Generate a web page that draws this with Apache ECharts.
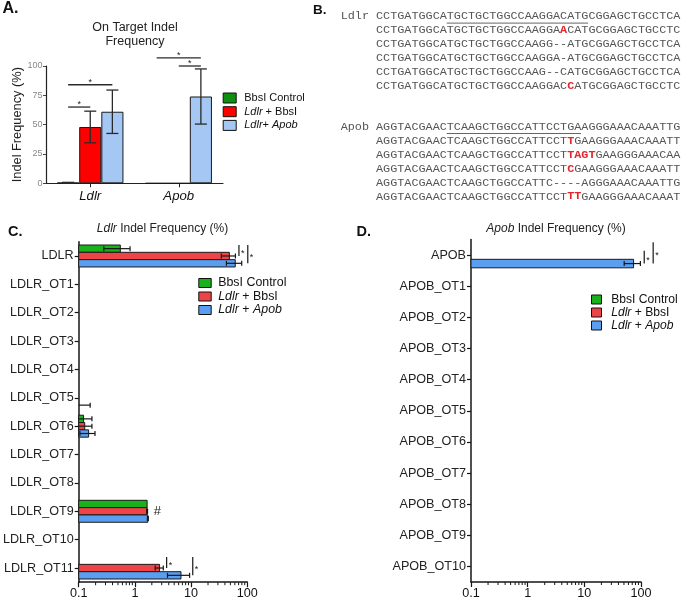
<!DOCTYPE html>
<html>
<head>
<meta charset="utf-8">
<script src="https://cdn.jsdelivr.net/npm/echarts@6.0.0/dist/echarts.min.js"></script>
<style>
html,body{margin:0;padding:0;background:#fff;}
#chart{width:685px;height:601px;}
</style>
</head>
<body>
<div id="chart"></div>
<script>
// ---------------- Panel A data ----------------
const groupsA = ['Ldlr', 'Apob'];
const ctrlA = [0.5, 0];
const ldlrBbsA = [48, 0];
const ldlrApobA = [61, 74];
const ctrlErrA = [0.3, 0];
const ldlrBbsErrA = [13.5, 0];
const ldlrApobErrA = [18.5, 23.5];
const yTicksA = [0, 25, 50, 75, 100];
// [category, fromBar, toBar, y]
const bracketsA = [[0, 0, 1, 65], [0, 0, 2, 84], [1, 0, 2, 107], [1, 1, 2, 100]];

// ---------------- Panel B data ----------------
const ldlrRows = [
  'CCTGATGGCATGCTGCTGGCCAAGGACATGCGGAGCTGCCTCA',
  'CCTGATGGCATGCTGCTGGCCAAGGA[A]CATGCGGAGCTGCCTC',
  'CCTGATGGCATGCTGCTGGCCAAGG--ATGCGGAGCTGCCTCA',
  'CCTGATGGCATGCTGCTGGCCAAGGA-ATGCGGAGCTGCCTCA',
  'CCTGATGGCATGCTGCTGGCCAAG--CATGCGGAGCTGCCTCA',
  'CCTGATGGCATGCTGCTGGCCAAGGAC[C]ATGCGGAGCTGCCTC'
];
const ldlrGuide = [10, 20];
const apobRows = [
  'AGGTACGAACTCAAGCTGGCCATTCCTGAAGGGAAACAAATTG',
  'AGGTACGAACTCAAGCTGGCCATTCCT[T]GAAGGGAAACAAATT',
  'AGGTACGAACTCAAGCTGGCCATTCCT[TAGT]GAAGGGAAACAA',
  'AGGTACGAACTCAAGCTGGCCATTCCT[C]GAAGGGAAACAAATT',
  'AGGTACGAACTCAAGCTGGCCATTC----AGGGAAACAAATTG',
  'AGGTACGAACTCAAGCTGGCCATTCCT[TT]GAAGGGAAACAAAT'
];
const apobGuide = [10, 19];

// ---------------- Panel C data ----------------
const catsC = ['LDLR', 'LDLR_OT1', 'LDLR_OT2', 'LDLR_OT3', 'LDLR_OT4', 'LDLR_OT5',
  'LDLR_OT6', 'LDLR_OT7', 'LDLR_OT8', 'LDLR_OT9', 'LDLR_OT10', 'LDLR_OT11'];
const ctrlC      = [0.55, null, null, null, null, null, 0.122, null, null, 1.65, null, null];
const ctrlErrC   = [0.27, 0, 0, 0, 0, 0, 0.05, 0, 0, 0, 0, 0];
const ldlrBbsC   = [48, null, null, null, null, null, 0.128, null, null, 1.65, null, 2.75];
const ldlrBbsErrC= [13.5, 0, 0, 0, 0, 0, 0.044, 0, 0, 0.03, 0, 0.45];
const ldlrApobC  = [61, null, null, null, null, 0.1, 0.15, null, null, 1.7, null, 6.6];
const ldlrApobErrC=[18.5, 0, 0, 0, 0, 0.06, 0.045, 0, 0, 0.03, 0, 2.8];
// [x value, category, fromBar, toBar]
const bracketsC = [[71, 0, 0, 1], [102, 0, 0, 2], [3.67, 11, 0, 1], [10.7, 11, 0, 2]];
const hashC = [[2.5, 9]];

// ---------------- Panel D data ----------------
const catsD = ['APOB', 'APOB_OT1', 'APOB_OT2', 'APOB_OT3', 'APOB_OT4', 'APOB_OT5',
  'APOB_OT6', 'APOB_OT7', 'APOB_OT8', 'APOB_OT9', 'APOB_OT10'];
const ctrlD       = [null, null, null, null, null, null, null, null, null, null, null];
const ctrlErrD    = [0, 0, 0, 0, 0, 0, 0, 0, 0, 0, 0];
const ldlrBbsD    = [null, null, null, null, null, null, null, null, null, null, null];
const ldlrBbsErrD = [0, 0, 0, 0, 0, 0, 0, 0, 0, 0, 0];
const ldlrApobD   = [74, null, null, null, null, null, null, null, null, null, null];
const ldlrApobErrD= [23.5, 0, 0, 0, 0, 0, 0, 0, 0, 0, 0];
const bracketsD = [[114, 0, 1, 2], [164, 0, 0, 2]];

const minorTicks = [0.2, 0.3, 0.4, 0.5, 0.6, 0.7, 0.8, 0.9, 2, 3, 4, 5, 6, 7, 8, 9, 20, 30, 40, 50, 60, 70, 80, 90];

const legendLabelsA = ['BbsI Control', '{i|Ldlr} + BbsI', '{i|Ldlr}+ {i|Apob}'];
const legendLabelsC = ['BbsI Control', '{i|Ldlr} + BbsI', '{i|Ldlr} + {i|Apob}'];

// ---------------- styling ----------------
const FONT = 'Liberation Sans, Arial, Helvetica, sans-serif';
const MONO = 'Liberation Mono, Courier New, monospace';
const colorsA = ['#0f8f0f', '#ff0000', '#a4c7f4'];
const colorsC = ['#1ab21a', '#ee4447', '#5a9fef'];
const INK = '#161616';

// ---------------- render helpers ----------------
function errRenderA(params, api) {
  const cat = api.value(0), k = api.value(1), m = api.value(2), e = api.value(3);
  const band = api.size([1, 0])[0];
  const bw = band * 0.75 / 3;
  const cx = api.coord([cat, 0])[0] + (k - 1) * bw;
  const yt = api.coord([cat, m + e])[1];
  const yb = api.coord([cat, Math.max(0, m - e)])[1];
  const cw = 6;
  const st = { stroke: '#2a2a2a', lineWidth: 1.3 };
  return { type: 'group', children: [
    { type: 'line', shape: { x1: cx, y1: yt, x2: cx, y2: yb }, style: st },
    { type: 'line', shape: { x1: cx - cw, y1: yt, x2: cx + cw, y2: yt }, style: st },
    { type: 'line', shape: { x1: cx - cw, y1: yb, x2: cx + cw, y2: yb }, style: st }
  ]};
}
function bracketRenderA(params, api) {
  const cat = api.value(0), fk = api.value(1), tk = api.value(2), yv = api.value(3);
  const band = api.size([1, 0])[0];
  const bw = band * 0.75 / 3;
  const c0 = api.coord([cat, yv]);
  const x1 = c0[0] + (fk - 1) * bw, x2 = c0[0] + (tk - 1) * bw;
  return { type: 'group', children: [
    { type: 'line', shape: { x1: x1, y1: c0[1], x2: x2, y2: c0[1] }, style: { stroke: '#2a2a2a', lineWidth: 1.3 } },
    { type: 'text', x: (x1 + x2) / 2, y: c0[1] - 2.2, style: { text: '*', fontSize: 9, fontFamily: FONT, fill: '#222', align: 'center', verticalAlign: 'middle' } }
  ]};
}
function hbarRender(k, frac) {
  return function (params, api) {
    const cs = params.coordSys;
    const v = api.value(0), c = api.value(1), e = api.value(2);
    const band = api.size([0, 1])[1];
    const h = band * frac;
    const yc = api.coord([1, c])[1] + (k - 1) * h;
    const x0 = cs.x;
    const xOf = val => (val <= 0.1 ? x0 : api.coord([val, c])[0]);
    const xe = xOf(v);
    const ch = [];
    if (xe > x0 + 0.1) {
      ch.push({ type: 'rect', shape: { x: x0, y: yc - h / 2, width: xe - x0, height: h },
        style: { fill: api.visual('color'), stroke: '#1a1a1a', lineWidth: 1 } });
    }
    if (e > 0) {
      const xl = xOf(v - e), xr = xOf(v + e);
      const capH = Math.min(5, h * 0.7);
      const st = { stroke: INK, lineWidth: 1.2 };
      ch.push({ type: 'line', shape: { x1: xl, y1: yc, x2: xr, y2: yc }, style: st });
      ch.push({ type: 'line', shape: { x1: xr, y1: yc - capH / 2, x2: xr, y2: yc + capH / 2 }, style: st });
      if (xl > x0 + 0.5) ch.push({ type: 'line', shape: { x1: xl, y1: yc - capH / 2, x2: xl, y2: yc + capH / 2 }, style: st });
    }
    return { type: 'group', children: ch };
  };
}
function vBracketRender(frac) {
  return function (params, api) {
    const xv = api.value(0), c = api.value(1), fk = api.value(2), tk = api.value(3);
    const band = api.size([0, 1])[1];
    const h = band * frac;
    const yc = api.coord([1, c])[1];
    const x = api.coord([xv, c])[0];
    const y1 = yc + (fk - 1) * h - h / 2;
    const y2 = yc + (tk - 1) * h;
    return { type: 'group', children: [
      { type: 'line', shape: { x1: x, y1: y1, x2: x, y2: y2 }, style: { stroke: INK, lineWidth: 1.2 } },
      { type: 'text', x: x + 2, y: (y1 + y2) / 2 + 3, style: { text: '*', fontSize: 9, fontFamily: FONT, fill: INK, align: 'left', verticalAlign: 'middle' } }
    ]};
  };
}
function minorTickRender(params, api) {
  const cs = params.coordSys;
  const x = api.coord([api.value(0), 0])[0];
  const y0 = cs.y + cs.height;
  return { type: 'line', shape: { x1: x, y1: y0, x2: x, y2: y0 + 3 }, style: { stroke: INK, lineWidth: 1 } };
}
function hashRender(params, api) {
  const p = api.coord([api.value(0), api.value(1)]);
  return { type: 'text', x: p[0], y: p[1], style: { text: '#', fontSize: 13, fontFamily: FONT, fill: '#222', align: 'center', verticalAlign: 'middle' } };
}
function hData(vals, errs) {
  return vals.map((v, i) => (v == null ? null : [v, i, errs[i]])).filter(Boolean);
}
function errDataA() {
  const means = [ctrlA, ldlrBbsA, ldlrApobA];
  const errs = [ctrlErrA, ldlrBbsErrA, ldlrApobErrA];
  const out = [];
  groupsA.forEach((g, i) => { for (let k = 0; k < 3; k++) if (means[k][i] > 0) out.push([i, k, means[k][i], errs[k][i]]); });
  return out;
}
function toRich(row) {
  return row.split(/(\[[^\]]*\])/).filter(s => s.length)
    .map(s => (s[0] === '[' ? '{r|' + s.slice(1, -1) + '}' : '{n|' + s + '}')).join('');
}

// ---------------- graphic (texts, panel B) ----------------
const CW = 7.07, SEQX = 376, SEQFS = 11.8;
const seqRich = {
  n: { fontFamily: MONO, fontSize: SEQFS, fill: '#555' },
  r: { fontFamily: MONO, fontSize: SEQFS, fill: '#e3262b', fontWeight: 'bold' }
};
const g = [];
function addBlock(label, rows, guide, y0, dy) {
  g.push({ type: 'text', x: SEQX - 5 * CW, y: y0, style: { text: label, fontFamily: MONO, fontSize: SEQFS, fill: '#555', verticalAlign: 'middle', align: 'left' } });
  rows.forEach((r, i) => {
    g.push({ type: 'text', x: SEQX, y: y0 + i * dy, style: { text: toRich(r), rich: seqRich, fontFamily: MONO, fontSize: SEQFS, fill: '#555', verticalAlign: 'middle', align: 'left' } });
  });
  g.push({ type: 'line', shape: { x1: SEQX + guide[0] * CW, y1: y0 + 6.8, x2: SEQX + (guide[0] + guide[1]) * CW, y2: y0 + 6.8 }, style: { stroke: '#666', lineWidth: 1 } });
}
addBlock('Ldlr', ldlrRows, ldlrGuide, 16.3, 14.0);
addBlock('Apob', apobRows, apobGuide, 126.7, 13.95);

const letterStyle = { fontFamily: FONT, fontWeight: 'bold', fill: '#111', verticalAlign: 'middle', align: 'left' };
g.push({ type: 'text', x: 2.5, y: 9, style: Object.assign({ text: 'A.', fontSize: 16 }, letterStyle) });
g.push({ type: 'text', x: 313, y: 10.5, style: Object.assign({ text: 'B.', fontSize: 13.5 }, letterStyle) });
g.push({ type: 'text', x: 8, y: 232, style: Object.assign({ text: 'C.', fontSize: 14.5 }, letterStyle) });
g.push({ type: 'text', x: 356.5, y: 232, style: Object.assign({ text: 'D.', fontSize: 14.5 }, letterStyle) });
g.push({ type: 'text', x: 135, y: 34.5, style: { text: 'On Target Indel\nFrequency', fontFamily: FONT, fontSize: 12.5, lineHeight: 14.4, fill: '#222', align: 'center', verticalAlign: 'middle' } });
const titleRich = { i: { fontFamily: FONT, fontSize: 12, fontStyle: 'italic', fill: '#222' } };
g.push({ type: 'text', x: 162.5, y: 229, style: { text: '{i|Ldlr} Indel Frequency (%)', rich: titleRich, fontFamily: FONT, fontSize: 12, fill: '#222', align: 'center', verticalAlign: 'middle' } });
g.push({ type: 'text', x: 556, y: 229, style: { text: '{i|Apob} Indel Frequency (%)', rich: titleRich, fontFamily: FONT, fontSize: 12, fill: '#222', align: 'center', verticalAlign: 'middle' } });

// ---------------- option ----------------
const axisLineBlack = { show: true, lineStyle: { color: INK, width: 1.5 } };
function logXAxis(gi) {
  return { gridIndex: gi, type: 'log', logBase: 10, min: 0.1, max: 100,
    axisLine: axisLineBlack, axisTick: { show: true, length: 5, lineStyle: { color: INK, width: 1.2 } },
    axisLabel: { fontFamily: FONT, fontSize: 12.6, color: '#111', margin: 5 },
    splitLine: { show: false }, minorTick: { show: false } };
}
function catYAxis(gi, cats) {
  return { gridIndex: gi, type: 'category', data: cats, inverse: true,
    axisLine: axisLineBlack, axisTick: { show: true, alignWithLabel: true, length: 4, lineStyle: { color: INK, width: 1.2 } },
    axisLabel: { fontFamily: FONT, fontSize: 12.6, color: '#222', margin: 5 }, splitLine: { show: false } };
}
function legendFor(prefix, labels, left, top, fs, iw, ih, gap, pad) {
  return { data: [prefix + '0', prefix + '1', prefix + '2'], orient: 'vertical', left: left, top: top, padding: 0,
    itemWidth: iw, itemHeight: ih, itemGap: gap, icon: 'rect', selectedMode: false,
    itemStyle: { borderColor: '#111', borderWidth: 1 },
    formatter: n => labels[+n.slice(1)],
    textStyle: { fontFamily: FONT, fontSize: fs, color: '#111', lineHeight: 12, padding: [0, 0, 0, pad],
      rich: { i: { fontFamily: FONT, fontSize: fs, fontStyle: 'italic', color: '#111', lineHeight: 12 } } } };
}

const series = [];
[ctrlA, ldlrBbsA, ldlrApobA].forEach((d, k) => series.push({
  name: 'a' + k, type: 'bar', xAxisIndex: 0, yAxisIndex: 0, data: d, barGap: '0%', barCategoryGap: '25%',
  itemStyle: { color: colorsA[k], borderColor: '#1a1a1a', borderWidth: 1 }, silent: true
}));
series.push({ type: 'custom', xAxisIndex: 0, yAxisIndex: 0, data: errDataA(), encode: { x: 0, y: 2 }, renderItem: errRenderA, z: 5, silent: true });
series.push({ type: 'custom', xAxisIndex: 0, yAxisIndex: 0, data: bracketsA, encode: { x: 0, y: 3 }, renderItem: bracketRenderA, z: 5, silent: true });

const fracC = 0.258, fracD = 0.273;
[[ctrlC, ctrlErrC], [ldlrBbsC, ldlrBbsErrC], [ldlrApobC, ldlrApobErrC]].forEach((p, k) => series.push({
  name: 'c' + k, type: 'custom', xAxisIndex: 1, yAxisIndex: 1, data: hData(p[0], p[1]), encode: { x: 0, y: 1 },
  itemStyle: { color: colorsC[k] }, renderItem: hbarRender(k, fracC), silent: true
}));
[[ctrlD, ctrlErrD], [ldlrBbsD, ldlrBbsErrD], [ldlrApobD, ldlrApobErrD]].forEach((p, k) => series.push({
  name: 'd' + k, type: 'custom', xAxisIndex: 2, yAxisIndex: 2, data: hData(p[0], p[1]), encode: { x: 0, y: 1 },
  itemStyle: { color: colorsC[k] }, renderItem: hbarRender(k, fracD), silent: true
}));
series.push({ type: 'custom', xAxisIndex: 1, yAxisIndex: 1, data: bracketsC, encode: { x: 0, y: 1 }, renderItem: vBracketRender(fracC), z: 5, silent: true });
series.push({ type: 'custom', xAxisIndex: 2, yAxisIndex: 2, data: bracketsD, encode: { x: 0, y: 1 }, renderItem: vBracketRender(fracD), z: 5, silent: true });
series.push({ type: 'custom', xAxisIndex: 1, yAxisIndex: 1, data: hashC, encode: { x: 0, y: 1 }, renderItem: hashRender, z: 5, silent: true });
series.push({ type: 'custom', xAxisIndex: 1, yAxisIndex: 1, data: minorTicks.map(v => [v, 0]), encode: { x: 0, y: 1 }, renderItem: minorTickRender, z: 5, silent: true });
series.push({ type: 'custom', xAxisIndex: 2, yAxisIndex: 2, data: minorTicks.map(v => [v, 0]), encode: { x: 0, y: 1 }, renderItem: minorTickRender, z: 5, silent: true });

const option = {
  animation: false,
  backgroundColor: '#ffffff',
  textStyle: { fontFamily: FONT },
  grid: [
    { left: 46, top: 66, width: 177, height: 117.3 },
    { left: 77.3, top: 241.8, width: 170, height: 340.4 },
    { left: 471, top: 239.5, width: 170, height: 342.5 }
  ],
  xAxis: [
    { gridIndex: 0, type: 'category', data: groupsA,
      axisLine: { show: true, lineStyle: { color: '#222', width: 1.2 } },
      axisTick: { show: true, alignWithLabel: true, length: 4, lineStyle: { color: '#222' } },
      axisLabel: { fontFamily: FONT, fontSize: 13.2, fontStyle: 'italic', color: '#111', margin: 7 } },
    logXAxis(1), logXAxis(2)
  ],
  yAxis: [
    { gridIndex: 0, type: 'value', min: yTicksA[0], max: yTicksA[yTicksA.length - 1], interval: yTicksA[1] - yTicksA[0],
      axisLine: { show: true, lineStyle: { color: '#222', width: 1.2 } },
      axisTick: { show: true, length: 3, lineStyle: { color: '#444' } },
      axisLabel: { fontFamily: FONT, fontSize: 9, color: '#888', margin: 3.5 },
      splitLine: { show: false },
      name: 'Indel Frequency (%)', nameLocation: 'middle', nameGap: 19.5, nameRotate: 90,
      nameTextStyle: { fontFamily: FONT, fontSize: 12.8, color: '#222' } },
    catYAxis(1, catsC), catYAxis(2, catsD)
  ],
  legend: [
    legendFor('a', legendLabelsA, 222.7, 92, 11, 13, 10, 1.7, 3),
    legendFor('c', legendLabelsC, 198.3, 277, 12.4, 12.4, 9, 1.5, 2),
    legendFor('d', legendLabelsC, 591, 293.5, 12.1, 10, 9, 1, 4.7)
  ],
  graphic: { elements: g },
  series: series
};
const chart = echarts.init(document.getElementById('chart'), null, { renderer: 'canvas', width: 685, height: 601 });
chart.setOption(option);
</script>
</body>
</html>
